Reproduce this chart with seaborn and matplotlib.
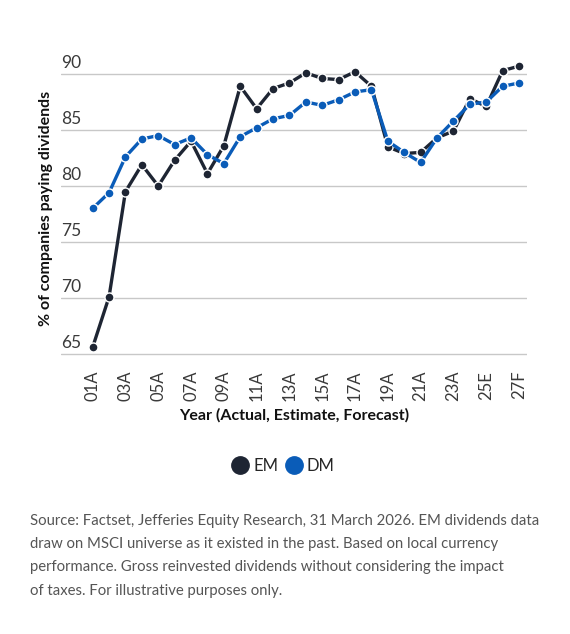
import pandas as pd
import matplotlib
matplotlib.use("Agg")
import matplotlib.pyplot as plt
import seaborn as sns

# data
years = ["01A", "02A", "03A", "04A", "05A", "06A", "07A", "08A", "09A", "10A",
         "11A", "12A", "13A", "14A", "15A", "16A", "17A", "18A", "19A", "20A",
         "21A", "22A", "23A", "24A", "25E", "26F", "27F"]
em = [65.6, 70.1, 79.5, 81.9, 80.0, 82.3, 84.0, 81.1, 83.6, 88.9,
      86.9, 88.7, 89.2, 90.1, 89.6, 89.5, 90.2, 88.9, 83.5, 82.9,
      83.0, 84.3, 84.9, 87.8, 87.1, 90.3, 90.7]
dm = [78.0, 79.4, 82.6, 84.2, 84.5, 83.7, 84.3, 82.8, 82.0, 84.4,
      85.2, 86.0, 86.3, 87.5, 87.2, 87.7, 88.4, 88.6, 84.0, 83.0,
      82.1, 84.3, 85.8, 87.3, 87.5, 88.9, 89.2]

em_color = "#1e2533"
dm_color = "#0a5cb8"

df = pd.DataFrame({"year": years * 2,
                   "idx": list(range(len(years))) * 2,
                   "value": em + dm,
                   "series": ["EM"] * len(years) + ["DM"] * len(years)})

sns.set_style("white")
plt.rcParams["font.family"] = ["Lato", "DejaVu Sans"]

fig = plt.figure(figsize=(5.7, 6.34), dpi=100)
ax = fig.add_axes([0.107, 0.4328, 0.818, 0.477])

sns.lineplot(data=df, x="idx", y="value", hue="series",
             palette={"EM": em_color, "DM": dm_color},
             marker="o", markersize=6.5, markeredgecolor="white", markeredgewidth=1,
             linewidth=2.4, ax=ax, legend=False)

ax.set_xlim(-1.93, 26.5)
ax.set_ylim(64.5, 91.5)

# horizontal grid only
yt = [65, 70, 75, 80, 85, 90]
ax.set_yticks(yt)
ax.set_yticklabels([])
ax.tick_params(axis="y", length=0)
ax.yaxis.grid(True, color="#c8c8c8", linewidth=1)
ax.set_axisbelow(True)
for s in ax.spines.values():
    s.set_visible(False)

for v in yt:
    ax.text(0, v + 0.3, str(v), transform=ax.get_yaxis_transform(),
            ha="left", va="bottom", fontsize=12.5, color="#3a3a3a")

ax.set_xticks(range(0, len(years), 2))
ax.set_xticklabels(years[::2], rotation=90, fontsize=12, color="#3a3a3a")
ax.tick_params(axis="x", length=0, pad=8)

ax.set_xlabel("Year (Actual, Estimate, Forecast)", fontsize=11.5, fontweight="bold",
              color="#111111", labelpad=5)
ax.set_ylabel("% of companies paying dividends", fontsize=11.5, fontweight="bold",
              color="#111111", labelpad=2)

handles = [plt.Line2D([], [], marker="o", linestyle="", markersize=12.5, color=em_color),
           plt.Line2D([], [], marker="o", linestyle="", markersize=12.5, color=dm_color)]
fig.legend(handles, ["EM", "DM"], loc="center", bbox_to_anchor=(0.497, 0.265),
           ncol=2, frameon=False, fontsize=12, handletextpad=0.3, columnspacing=0.4,
           handlelength=1.0)

note = ("Source: Factset, Jefferies Equity Research, 31 March 2026. EM dividends data\n"
        "draw on MSCI universe as it existed in the past. Based on local currency\n"
        "performance. Gross reinvested dividends without considering the impact\n"
        "of taxes. For illustrative purposes only.")
fig.text(0.053, 0.19, note, ha="left", va="top", fontsize=10.7, color="#555555",
         linespacing=1.85)

fig.savefig("out.png", dpi=100)
